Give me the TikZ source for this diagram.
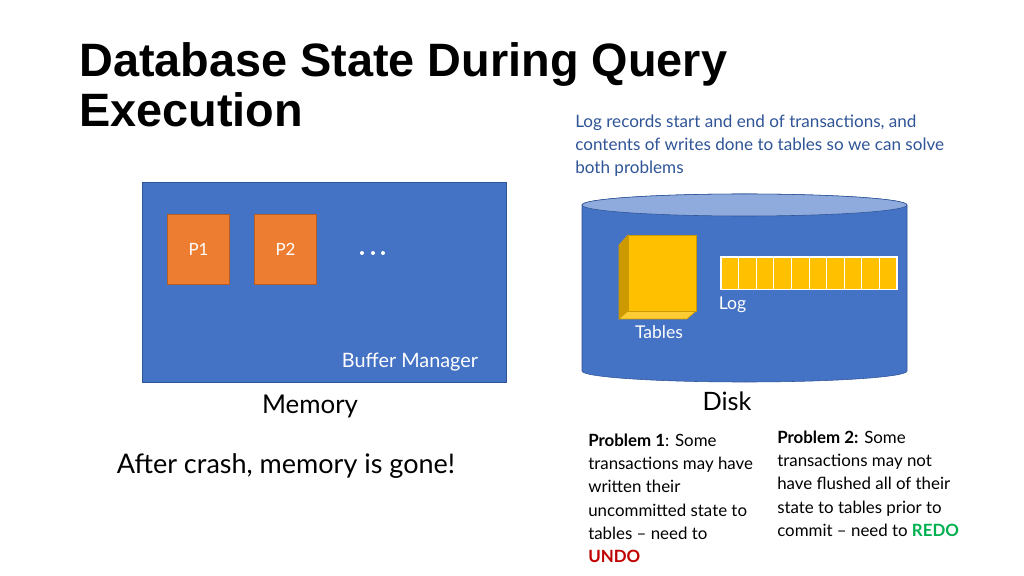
\documentclass[tikz,border=0pt]{standalone}
\usepackage{fontspec}
\setmainfont{Lato}
\newfontfamily\titlefont{Liberation Sans}
\definecolor{panelblue}{HTML}{4472C4}
\definecolor{rimblue}{HTML}{8FAADC}
\definecolor{edgeblue}{HTML}{2F5597}
\definecolor{pageorange}{HTML}{ED7D31}
\definecolor{tablegold}{HTML}{FFC000}
\definecolor{tabledark}{HTML}{CC9A00}
\definecolor{tablelight}{HTML}{FFCD33}
\definecolor{notered}{HTML}{C00000}
\definecolor{notegreen}{HTML}{00B050}
\tikzset{
    headline/.style={anchor=base west,inner sep=0pt,font=\titlefont\bfseries\fontsize{33.3}{37}\selectfont,text=black},
    whitelabel/.style={text=white,font=\fontsize{12.5}{14}\selectfont,inner sep=0pt},
    pagebox/.style={draw=pageorange!75!black,fill=pageorange,minimum width=1.55cm,minimum height=1.75cm,inner sep=0pt,text=white,font=\fontsize{12}{14}\selectfont},
    caption/.style={font=\fontsize{18.4}{22}\selectfont,text=black,inner sep=0pt},
    notetext/.style={anchor=north west,align=left,inner sep=0pt,text=black,font=\fontsize{12}{16.4}\selectfont},
}
\begin{document}
\begin{tikzpicture}[x=0.025cm,y=-0.025cm]
    \useasboundingbox (0,0) rectangle (1024,576);
    % title
    \node [headline] (title1) at (79,76.5) {Database State During Query};
    \node [headline] (title2) at (79,126.5) {Execution};
    \node [anchor=north west,align=left,inner sep=0pt,text=edgeblue,font=\fontsize{12.15}{16.4}\selectfont] (lognote) at (575,115)
        {Log records start and end of transactions, and\\contents of writes done to tables so we can solve\\both problems};
    % memory
    \draw [draw=edgeblue,fill=panelblue] (142,182) rectangle (506,382);
    \node [pagebox] (p1) at (198.5,249.5) {P1};
    \node [pagebox] (p2) at (285.5,249.5) {P2};
    \foreach \x in {362,373,383}
        \fill [white] (\x,253) circle (2);
    \node [whitelabel,font=\fontsize{14.1}{16}\selectfont] (buffer) at (410,362) {Buffer Manager};
    \node [caption] (memory) at (310,406) {Memory};
    \node [caption,font=\fontsize{19.2}{22}\selectfont] (crash) at (286,466) {After crash, memory is gone!};
    % disk
    \draw [draw=edgeblue,fill=panelblue] (582,205) -- (582,371) arc [start angle=180,end angle=0,x radius=162.5,y radius=11]
        -- (907,205) arc [start angle=0,end angle=-180,x radius=162.5,y radius=11] -- cycle;
    \draw [draw=edgeblue,fill=rimblue] (744.5,205) ellipse [x radius=162.5,y radius=11];
    % tables
    \draw [draw=tablegold!80!black,fill=tabledark] (619,245) -- (628,235) -- (628,311) -- (619,319) -- cycle;
    \draw [draw=tablegold!80!black,fill=tablelight] (619,319) -- (628,311) -- (696,311) -- (687,319) -- cycle;
    \draw [draw=tablegold!80!black,fill=tablegold] (628,235) rectangle (696,311);
    \node [whitelabel] (tables) at (659,332) {Tables};
    % log
    \draw [white,fill=tablegold,line width=0.8pt] (721,257) rectangle (897,289.5);
    \foreach \x in {1,...,9}
        \draw [white,line width=0.6pt] (721+17.6*\x,257) -- (721+17.6*\x,289.5);
    \node [whitelabel] (log) at (732.5,305) {Log};
    \node [caption,font=\fontsize{18}{22}\selectfont] (disk) at (727,401) {Disk};
    % problems
    \node [notetext] (prob1) at (588,434)
        {\textbf{Problem 1}: Some\\transactions may have\\written their\\uncommitted state to\\tables -- need to\\\textcolor{notered}{\textbf{UNDO}}};
    \node [notetext] (prob2) at (777,431)
        {\textbf{Problem 2:} Some\\transactions may not\\have flushed all of their\\state to tables prior to\\commit -- need to \textcolor{notegreen}{\textbf{REDO}}};
\end{tikzpicture}
\end{document}
